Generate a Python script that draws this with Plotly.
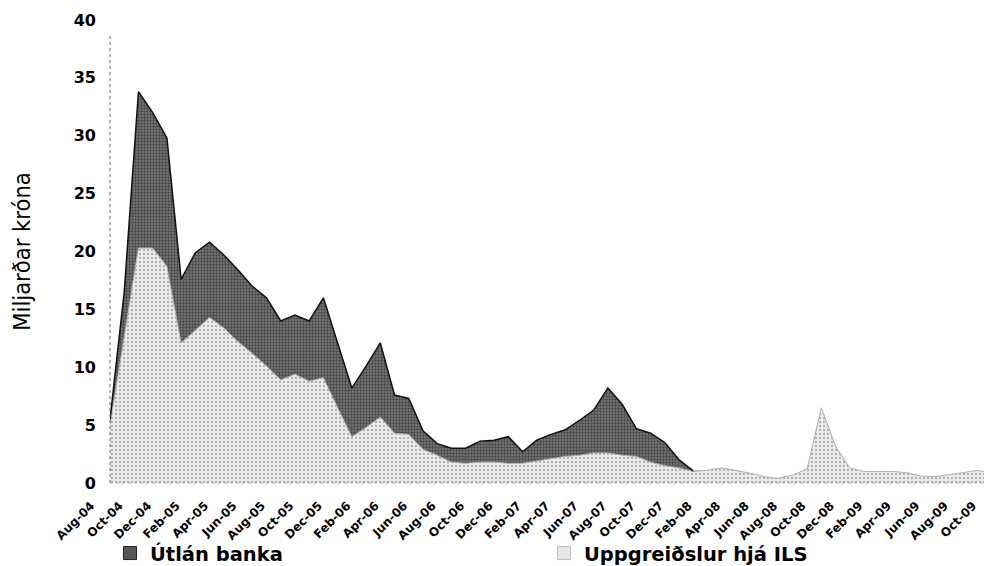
import plotly.graph_objects as go
import pandas as pd
import numpy as np

# mánuðir Aug-04 .. Oct-09
months = list(pd.date_range('2004-08-01', periods=63, freq='MS').strftime('%b-%y'))

# Uppgreiðslur hjá ILS (milljarðar kr.)
uppgreidslur_ils = [
    5.0, 12.5, 20.3, 20.3, 18.7, 12.1, 13.2, 14.3, 13.4, 12.2,
    11.2, 10.1, 8.9, 9.4, 8.8, 9.1, 6.5, 4.0, 4.8, 5.7,
    4.3, 4.2, 2.9, 2.4, 1.8, 1.7, 1.8, 1.8, 1.7, 1.7,
    1.9, 2.1, 2.3, 2.4, 2.6, 2.6, 2.4, 2.3, 1.8, 1.5,
    1.3, 1.0, 1.1, 1.3, 1.1, 0.85, 0.55, 0.4, 0.7, 1.2,
    6.5, 3.2, 1.3, 1.0, 1.0, 1.0, 0.9, 0.6, 0.55, 0.7,
    0.9, 1.1, 0.8,
]

# Útlán banka (milljarðar kr.)
utlan_banka = [
    0.5, 4.0, 13.5, 11.7, 11.1, 5.5, 6.7, 6.5, 6.3, 6.2,
    5.8, 5.9, 5.1, 5.1, 5.2, 6.9, 5.6, 4.2, 5.3, 6.4,
    3.3, 3.1, 1.6, 1.0, 1.2, 1.3, 1.8, 1.9, 2.3, 1.0,
    1.8, 2.1, 2.3, 3.0, 3.7, 5.6, 4.4, 2.4, 2.5, 2.0,
    0.7, 0.05, 0.0, 0.0, 0.0, 0.0, 0.0, 0.0, 0.0, 0.0,
    0.0, 0.0, 0.0, 0.0, 0.0, 0.0, 0.0, 0.0, 0.0, 0.0,
    0.0, 0.0, 0.0,
]

y_ticks = [0, 5, 10, 15, 20, 25, 30, 35, 40]
x_ticks = months[::2]

# samtala fyrir staflaða svæðið
total = np.array(uppgreidslur_ils) + np.array(utlan_banka)
last_bank = 42  # útlán banka enda í mars 2008

fig = go.Figure()

# ljósa svæðið (neðst)
fig.add_trace(go.Scatter(
    x=months, y=uppgreidslur_ils,
    mode='lines', fill='tozeroy',
    line=dict(color='#b0b0b0', width=1),
    fillcolor='#e4e4e4',
    fillpattern=dict(shape='.', bgcolor='#ededed', fgcolor='#707070', size=4, solidity=0.28),
    showlegend=False, hoverinfo='skip',
))

# dökka svæðið ofan á
fig.add_trace(go.Scatter(
    x=months, y=total,
    mode='lines', fill='tonexty',
    line=dict(width=0, color='rgba(0,0,0,0)'),
    fillcolor='#5a5a5a',
    fillpattern=dict(shape='.', bgcolor='#7a7a7a', fgcolor='#141414', size=3, solidity=0.5),
    showlegend=False, hoverinfo='skip',
))

# útlína dökka svæðisins
fig.add_trace(go.Scatter(
    x=months[:last_bank], y=total[:last_bank],
    mode='lines', line=dict(color='#111111', width=1.5),
    showlegend=False, hoverinfo='skip',
))

# skýringar
fig.add_trace(go.Scatter(
    x=[None], y=[None], mode='markers', name='Útlán banka',
    marker=dict(symbol='square', size=13, color='#555555', line=dict(color='#222222', width=1)),
))
fig.add_trace(go.Scatter(
    x=[None], y=[None], mode='markers', name='Uppgreiðslur hjá ILS',
    marker=dict(symbol='square', size=13, color='#e8e8e8', line=dict(color='#bbbbbb', width=1)),
))

# punktalínur fyrir ása
fig.add_shape(type='line', xref='paper', yref='paper', x0=0, x1=0, y0=0, y1=0.97,
              line=dict(color='#666666', width=1, dash='dot'))
fig.add_shape(type='line', xref='paper', yref='paper', x0=0, x1=1, y0=0, y1=0,
              line=dict(color='#aaaaaa', width=1, dash='dot'))

fig.update_layout(
    width=984, height=558,
    margin=dict(l=102, r=0, t=12, b=83, autoexpand=False),
    paper_bgcolor='white', plot_bgcolor='white',
    font=dict(family='DejaVu Sans', color='black'),
    showlegend=True,
    legend=dict(
        orientation='h', x=0.0, xanchor='left', y=-0.152, yanchor='middle',
        entrywidth=389, entrywidthmode='pixels',
        font=dict(family='DejaVu Sans', size=19.5, weight='bold'),
        bgcolor='rgba(0,0,0,0)', traceorder='normal',
    ),
)

fig.update_xaxes(
    type='category', range=[0, 62],
    tickmode='array', tickvals=x_ticks, ticktext=x_ticks,
    tickangle=-45, ticks='outside', ticklen=10, tickcolor='rgba(0,0,0,0)',
    showgrid=False, zeroline=False, showline=False,
    tickfont=dict(family='DejaVu Sans', size=12, weight='bold'),
    ticklabelshift=-19, automargin=False,
)

fig.update_yaxes(
    range=[0, 40], tickmode='array', tickvals=y_ticks,
    ticks='', showgrid=False, zeroline=False, showline=False,
    tickfont=dict(family='DejaVu Sans', size=16, weight='bold'),
    ticklabelstandoff=13, automargin=False,
    title=dict(text='Miljarðar króna', standoff=44,
               font=dict(family='DejaVu Sans Condensed, DejaVu Sans', size=23.5)),
)

fig.write_html("out.html")
